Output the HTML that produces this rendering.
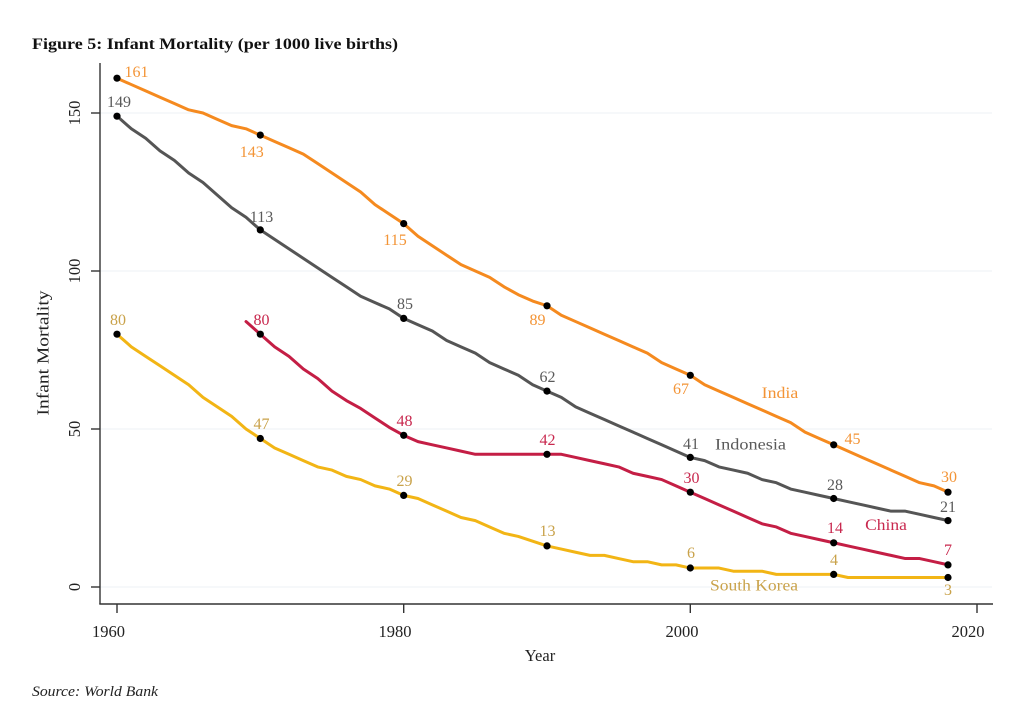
<!DOCTYPE html>
<html><head><meta charset="utf-8"><style>
html,body{margin:0;padding:0;background:#fff;}
svg{display:block;}
text{font-family:"Liberation Serif",serif;}
</style></head><body>
<svg width="1024" height="725" viewBox="0 0 1024 725" xmlns="http://www.w3.org/2000/svg">
<rect width="1024" height="725" fill="#fff"/>
<text x="32" y="49" font-size="16" font-weight="bold" fill="#111" textLength="366" lengthAdjust="spacingAndGlyphs">Figure 5: Infant Mortality (per 1000 live births)</text>
<g stroke="#edf1f4" stroke-width="1">
<line x1="100" y1="587" x2="992" y2="587"/>
<line x1="100" y1="429" x2="992" y2="429"/>
<line x1="100" y1="271" x2="992" y2="271"/>
<line x1="100" y1="113" x2="992" y2="113"/>
</g>
<g stroke="#333" stroke-width="1.4" fill="none">
<line x1="100" y1="63" x2="100" y2="604"/>
<line x1="99.3" y1="604" x2="993" y2="604"/>
<line x1="91" y1="113" x2="100" y2="113"/>
<line x1="91" y1="271" x2="100" y2="271"/>
<line x1="91" y1="429" x2="100" y2="429"/>
<line x1="91" y1="587" x2="100" y2="587"/>
<line x1="117" y1="604" x2="117" y2="613"/>
<line x1="403.7" y1="604" x2="403.7" y2="613"/>
<line x1="690.3" y1="604" x2="690.3" y2="613"/>
<line x1="977" y1="604" x2="977" y2="613"/>
</g>
<g font-size="16.5" fill="#222" text-anchor="middle">
<text transform="translate(80,113) rotate(-90)">150</text>
<text transform="translate(80,271) rotate(-90)">100</text>
<text transform="translate(80,429) rotate(-90)">50</text>
<text transform="translate(80,587) rotate(-90)">0</text>
<text x="108.5" y="637">1960</text>
<text x="395" y="637">1980</text>
<text x="682" y="637">2000</text>
<text x="968" y="637">2020</text>
<text x="540" y="661">Year</text>
<text transform="translate(48.5,353) rotate(-90)" textLength="125" lengthAdjust="spacingAndGlyphs">Infant Mortality</text>
</g>
<text x="32" y="696" font-size="15" font-style="italic" fill="#222" textLength="126" lengthAdjust="spacingAndGlyphs">Source: World Bank</text>

<g transform="translate(117,587) scale(14.3333,-3.16)" fill="none" stroke-linejoin="round" stroke-linecap="round">
<polyline vector-effect="non-scaling-stroke" stroke="#f58a1f" stroke-width="3" points="0,161 1,159 2,157 3,155 4,153 5,151 6,150 7,148 8,146 9,145 10,143 11,141 12,139 13,137 14,134 15,131 16,128 17,125 18,121 19,118 20,115 21,111 22,108 23,105 24,102 25,100 26,98 27,95 28,92.5 29,90.5 30,89 31,86 32,84 33,82 34,80 35,78 36,76 37,74 38,71 39,69 40,67 41,64 42,62 43,60 44,58 45,56 46,54 47,52 48,49 49,47 50,45 51,43 52,41 53,39 54,37 55,35 56,33 57,32 58,30"/>
<polyline vector-effect="non-scaling-stroke" stroke="#555555" stroke-width="3" points="0,149 1,145 2,142 3,138 4,135 5,131 6,128 7,124 8,120 9,117 10,113 11,110 12,107 13,104 14,101 15,98 16,95 17,92 18,90 19,88 20,85 21,83 22,81 23,78 24,76 25,74 26,71 27,69 28,67 29,64 30,62 31,60 32,57 33,55 34,53 35,51 36,49 37,47 38,45 39,43 40,41 41,40 42,38 43,37 44,36 45,34 46,33 47,31 48,30 49,29 50,28 51,27 52,26 53,25 54,24 55,24 56,23 57,22 58,21"/>
<polyline vector-effect="non-scaling-stroke" stroke="#c41e45" stroke-width="3" points="9,84 10,80 11,76 12,73 13,69 14,66 15,62 16,59 17,56.5 18,53.5 19,50.5 20,48 21,46 22,45 23,44 24,43 25,42 26,42 27,42 28,42 29,42 30,42 31,42 32,41 33,40 34,39 35,38 36,36 37,35 38,34 39,32 40,30 41,28 42,26 43,24 44,22 45,20 46,19 47,17 48,16 49,15 50,14 51,13 52,12 53,11 54,10 55,9 56,9 57,8 58,7"/>
<polyline vector-effect="non-scaling-stroke" stroke="#f2b515" stroke-width="3" points="0,80 1,76 2,73 3,70 4,67 5,64 6,60 7,57 8,54 9,50 10,47 11,44 12,42 13,40 14,38 15,37 16,35 17,34 18,32 19,31 20,29 21,28 22,26 23,24 24,22 25,21 26,19 27,17 28,16 29,14.5 30,13 31,12 32,11 33,10 34,10 35,9 36,8 37,8 38,7 39,7 40,6 41,6 42,6 43,5 44,5 45,5 46,4 47,4 48,4 49,4 50,4 51,3 52,3 53,3 54,3 55,3 56,3 57,3 58,3"/>
</g>

<g fill="#000">
<circle cx="117" cy="78.2" r="3.6"/><circle cx="260.3" cy="135.1" r="3.6"/><circle cx="403.7" cy="223.6" r="3.6"/><circle cx="547" cy="305.8" r="3.6"/><circle cx="690.3" cy="375.3" r="3.6"/><circle cx="833.7" cy="444.8" r="3.6"/><circle cx="948" cy="492.2" r="3.6"/>
<circle cx="117" cy="116.2" r="3.6"/><circle cx="260.3" cy="229.9" r="3.6"/><circle cx="403.7" cy="318.4" r="3.6"/><circle cx="547" cy="391.1" r="3.6"/><circle cx="690.3" cy="457.4" r="3.6"/><circle cx="833.7" cy="498.5" r="3.6"/><circle cx="948" cy="520.6" r="3.6"/>
<circle cx="260.3" cy="334.2" r="3.6"/><circle cx="403.7" cy="435.3" r="3.6"/><circle cx="547" cy="454.3" r="3.6"/><circle cx="690.3" cy="492.2" r="3.6"/><circle cx="833.7" cy="542.8" r="3.6"/><circle cx="948" cy="564.9" r="3.6"/>
<circle cx="117" cy="334.2" r="3.6"/><circle cx="260.3" cy="438.5" r="3.6"/><circle cx="403.7" cy="495.4" r="3.6"/><circle cx="547" cy="545.9" r="3.6"/><circle cx="690.3" cy="568" r="3.6"/><circle cx="833.7" cy="574.4" r="3.6"/><circle cx="948" cy="577.5" r="3.6"/>
</g>

<g font-size="16" text-anchor="middle">
<g fill="#f39436">
<text x="136.5" y="77">161</text><text x="251.7" y="157">143</text><text x="395" y="245">115</text><text x="537.5" y="325">89</text><text x="681" y="394">67</text><text x="852.5" y="444">45</text><text x="949" y="482">30</text>
<text x="780" y="398" textLength="36.6" lengthAdjust="spacingAndGlyphs">India</text>
</g>
<g fill="#5a5a5a">
<text x="119" y="107">149</text><text x="261.5" y="222">113</text><text x="405" y="309">85</text><text x="547.5" y="382">62</text><text x="691" y="449">41</text><text x="835" y="490">28</text><text x="948" y="512">21</text>
<text x="750.5" y="449.5" textLength="71" lengthAdjust="spacingAndGlyphs">Indonesia</text>
</g>
<g fill="#c8284e">
<text x="261.5" y="325">80</text><text x="404.5" y="426">48</text><text x="547.5" y="445">42</text><text x="691.5" y="483">30</text><text x="835" y="533">14</text><text x="948" y="555">7</text>
<text x="886" y="530" textLength="41.7" lengthAdjust="spacingAndGlyphs">China</text>
</g>
<g fill="#c9a24a">
<text x="118" y="325">80</text><text x="261.5" y="429">47</text><text x="404.5" y="486">29</text><text x="547.5" y="536">13</text><text x="691" y="558">6</text><text x="834" y="565">4</text><text x="948" y="595">3</text>
<text x="754" y="590.5" textLength="88" lengthAdjust="spacingAndGlyphs">South Korea</text>
</g>
</g>
</svg>
</body></html>
